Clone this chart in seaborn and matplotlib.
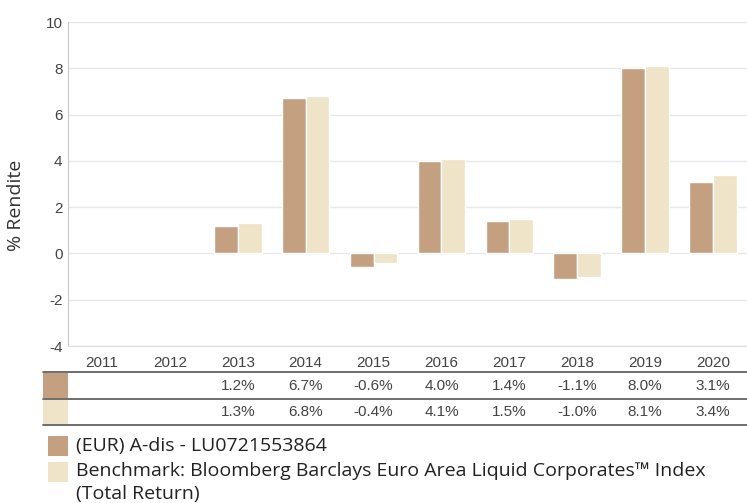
import numpy as np
import pandas as pd
import seaborn as sns
import matplotlib.pyplot as plt
from matplotlib.patches import Rectangle

# data
years = ['2011', '2012', '2013', '2014', '2015', '2016', '2017', '2018', '2019', '2020']
fund = [np.nan, np.nan, 1.2, 6.7, -0.6, 4.0, 1.4, -1.1, 8.0, 3.1]
bench = [np.nan, np.nan, 1.3, 6.8, -0.4, 4.1, 1.5, -1.0, 8.1, 3.4]
series = ['(EUR) A-dis - LU0721553864',
          'Benchmark: Bloomberg Barclays Euro Area Liquid Corporates\u2122 Index']
colors = ['#c4a080', '#efe3c8']

df = pd.DataFrame({
    'Jahr': years * 2,
    'Serie': [series[0]] * len(years) + [series[1]] * len(years),
    'Rendite': fund + bench,
})

sns.set_style('white')
plt.rcParams['font.family'] = ['Liberation Sans', 'DejaVu Sans']
plt.rcParams['axes.unicode_minus'] = False

W, H = 747, 503
fig = plt.figure(figsize=(W / 100, H / 100), dpi=100)

# main bar chart
ax = fig.add_axes([68 / W, (H - 346) / H, 679 / W, 324 / H])
sns.barplot(data=df, x='Jahr', y='Rendite', hue='Serie', order=years,
            hue_order=series, palette=colors, saturation=1, width=0.7,
            edgecolor='white', linewidth=1, ax=ax, legend=False)
ax.set_xlim(-0.5, len(years) - 0.5)
ax.set_ylim(-4, 10)
ax.set_yticks(range(-4, 11, 2))
ax.yaxis.grid(True, color='#e8e8e8', linewidth=1)
ax.set_axisbelow(True)
for s in ['top', 'right']:
    ax.spines[s].set_visible(False)
ax.spines['left'].set_color('#c8c8c8')
ax.spines['bottom'].set_color('#dcdcdc')
ax.tick_params(axis='both', length=0, labelsize=11, labelcolor='#444444')
ax.tick_params(axis='x', pad=7)
ax.tick_params(axis='y', pad=4)
ax.set_xlabel('')
ax.set_ylabel('% Rendite', fontsize=14, color='#333333',
              family=['Open Sans', 'DejaVu Sans'])
ax.yaxis.set_label_coords(-0.063, 0.435)

# data table under the chart
step = 679 / len(years)
tax = fig.add_axes([43 / W, (H - 425) / H, (W - 43) / W, 53 / H])
tax.set_xlim(-0.5 - 25 / step, len(years) - 0.5)
tax.set_ylim(53, 0)
tax.axis('off')
for yl in [0, 27, 53]:
    tax.axhline(yl, color='#555555', linewidth=1.2, clip_on=False)
rows = [fund, bench]
for i, (vals, c) in enumerate(zip(rows, colors)):
    y0, y1 = [0, 27, 53][i], [0, 27, 53][i + 1]
    tax.add_patch(Rectangle((-0.5 - 25 / step, y0 + 0.7), 25 / step, y1 - y0 - 1.4,
                            facecolor=c, edgecolor='none'))
    for j, v in enumerate(vals):
        if not np.isnan(v):
            tax.text(j, (y0 + y1) / 2, f'{v:.1f}%', ha='center', va='center',
                     fontsize=11, color='#444444')

# legend
legend_font = ['Open Sans', 'DejaVu Sans']
fig.patches.append(Rectangle((48 / W, (H - 456) / H), 20 / W, 20 / H,
                             transform=fig.transFigure, facecolor=colors[0], edgecolor='none'))
fig.patches.append(Rectangle((48 / W, (H - 482) / H), 20 / W, 20 / H,
                             transform=fig.transFigure, facecolor=colors[1], edgecolor='none'))
fig.text(76 / W, (H - 446) / H, series[0], ha='left', va='center',
         fontsize=14, color='#222222', family=legend_font)
fig.text(76 / W, (H - 471) / H, series[1], ha='left', va='center',
         fontsize=14, color='#222222', family=legend_font)
fig.text(76 / W, (H - 494) / H, '(Total Return)', ha='left', va='center',
         fontsize=14, color='#222222', family=legend_font)

fig.savefig('out.png', dpi=100)
